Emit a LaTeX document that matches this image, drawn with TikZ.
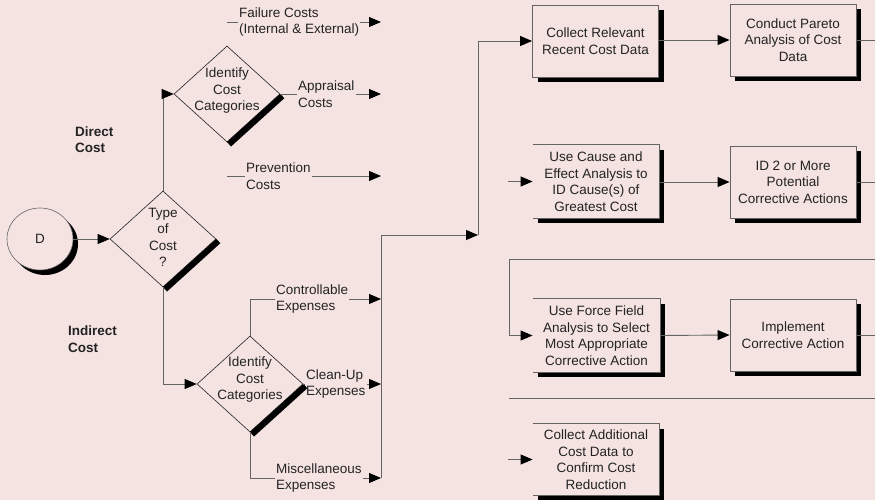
\documentclass[tikz,border=0pt]{standalone}
\usepackage{fontspec}
\setmainfont{Liberation Sans}
\usetikzlibrary{arrows.meta,shapes.geometric,calc,shadows}
\definecolor{paper}{RGB}{244,227,225}
\definecolor{wire}{RGB}{100,100,100}
\definecolor{ink}{RGB}{35,35,35}
\begin{document}
\begin{tikzpicture}[x=1pt,y=-1pt,
  every node/.style={font=\fontsize{13.5}{16.5}\selectfont, text=ink},
  wire/.style={draw=wire, line width=0.9pt},
  flow/.style={wire, -{Triangle[length=12pt,width=10pt,color=black]}},
  tag/.style={inner sep=1pt, align=left},
  heading/.style={inner sep=0pt, align=left, font=\fontsize{13.5}{16.5}\selectfont\bfseries},
  solid shadow/.style={drop shadow={shadow xshift=#1, shadow yshift=-#1, fill=black, opacity=1}},
  stepbox/.style={draw=wire, fill=paper, line width=0.9pt, minimum width=126pt,
    minimum height=72pt, inner sep=0pt, align=center, solid shadow=5pt},
  openbox/.style={stepbox, draw=none},
  decision/.style={diamond, draw=ink, fill=paper, line width=0.6pt,
    minimum width=106pt, minimum height=96pt, inner sep=0pt},
  rim/.style={black, line width=6pt},
  terminal/.style={ellipse, draw=wire, fill=paper, line width=0.6pt,
    minimum width=66pt, minimum height=62pt, inner sep=0pt, solid shadow=5pt}
]
\fill[paper] (0,0) rectangle (875,500);
\useasboundingbox (0,0) rectangle (875,500);

% ---------- left part: cost classification ----------
\node[terminal] (dn) at (40,239) {D};

\node[decision] (d0) at (163,239) {};
\draw[rim] ($(d0.east)+(2,2)$) -- ($(d0.south)+(2,2)$);
\node[align=center, inner sep=0pt] (t0) at (163,237.5) {Type\\of\\Cost\\?};

\node[decision] (d1) at (227,94) {};
\draw[rim] ($(d1.east)+(2,2)$) -- ($(d1.south)+(2,2)$);
\node[align=center, inner sep=0pt] (t1) at (227,91) {Identify\\Cost\\Categories};

\node[decision] (d2) at (250,384) {};
\draw[rim] ($(d2.east)+(2,2)$) -- ($(d2.south)+(2,2)$);
\node[align=center, inner sep=0pt] (t2) at (250,380) {Identify\\Cost\\Categories};

\node[heading, anchor=west] (hdir) at (75,139.5) {Direct\\Cost};
\node[heading, anchor=west] (hind) at (68,339) {Indirect\\Cost};

% direct cost categories
\coordinate (fs) at (227,22);
\coordinate (fe) at (381,22);
\coordinate (ae) at (381,94);
\coordinate (ps) at (227,176);
\coordinate (pe) at (381,176);
\node[tag, anchor=west] (lfail) at (238,22) {Failure Costs\\(Internal \& External)};
\node[tag, anchor=west] (lapp) at (297,94) {Appraisal\\Costs};
\node[tag, anchor=west] (lprev) at (245,176) {Prevention\\Costs};

% indirect cost categories
\coordinate (ce) at (381,299);
\coordinate (ke) at (381,384);
\coordinate (me) at (381,478);
\node[tag, anchor=west] (lctl) at (275,299) {Controllable\\Expenses};
\node[tag, anchor=west] (lcln) at (305,384) {Clean-Up\\Expenses};
\node[tag, anchor=west] (lmsc) at (275,478) {Miscellaneous\\Expenses};

\draw[flow] (dn.east) -- (d0.west);
\draw[flow] (d0.north) |- (d1.west);
\draw[flow] (d0.south) |- (d2.west);

\draw[wire] (fs) -- (lfail.west);
\draw[flow] (lfail.east) -- (fe);
\draw[wire] (d1.east) -- (lapp.west);
\draw[flow] (lapp.east) -- (ae);
\draw[wire] (ps) -- (lprev.west);
\draw[flow] (lprev.east) -- (pe);

\draw[wire] (d2.north) |- (lctl.west);
\draw[flow] (lctl.east) -- (ce);
\draw[wire] (d2.east) -- (lcln.west);
\draw[flow] (lcln.east) -- (ke);
\draw[wire] (d2.south) |- (lmsc.west);
\draw[flow] (lmsc.east) -- (me);

% collecting bus into the improvement steps
\coordinate (jn) at (381,235);
\coordinate (jr) at (478,235);
\draw[wire] (me) -- (jn);
\draw[flow] (jn) -- (jr);

% ---------- right part: improvement steps ----------
\node[stepbox] (b1) at (595.5,41) {Collect Relevant\\Recent Cost Data};
\node[stepbox] (b2) at (793,40) {Conduct Pareto\\Analysis of Cost\\Data};
\node[openbox, minimum height=73pt] (b3) at (596,181.5) {Use Cause and\\Effect Analysis to\\ID Cause(s) of\\Greatest Cost};
\node[stepbox] (b4) at (793,182) {ID 2 or More\\Potential\\Corrective Actions};
\node[openbox, minimum width=127pt, minimum height=73pt] (b5) at (596.5,335.5) {Use Force Field\\Analysis to Select\\Most Appropriate\\Corrective Action};
\node[stepbox] (b6) at (793,335) {Implement\\Corrective Action};
\node[openbox, minimum height=71pt] (b7) at (596,459.5) {Collect Additional\\Cost Data to\\Confirm Cost\\Reduction};

% borders of the boxes entered from the left margin
\foreach \b in {b3,b5,b7}
  \draw[wire] (\b.north west) -- (\b.north east) -- (\b.south east) -- (\b.south west);

\draw[flow] (jr) |- (b1.west);
\draw[flow] (b2.west -| b1.east) -- (b2.west);
\draw[flow] (b4.west -| b3.east) -- (b4.west);
\draw[flow] (b5.east) -- (b6.west);

% lines running on past the right margin
\coordinate (r2) at (875,40);
\coordinate (r4) at (875,182);
\coordinate (r6) at (875,335);
\draw[wire] (b2.east) -- (r2);
\draw[wire] (b4.east) -- (r4);
\draw[wire] (b6.east) -- (r6);

\coordinate (in3) at (508,181.5);
\draw[flow] (in3) -- (b3.west);

\coordinate (lpa) at (875,259);
\coordinate (lpb) at (509,259);
\draw[wire] (lpa) -- (lpb);
\draw[flow] (lpb) |- (b5.west);

\coordinate (sa) at (509,398);
\coordinate (sb) at (875,398);
\draw[wire] (sa) -- (sb);

\coordinate (in7) at (508,459.5);
\draw[flow] (in7) -- (b7.west);
\end{tikzpicture}
\end{document}
